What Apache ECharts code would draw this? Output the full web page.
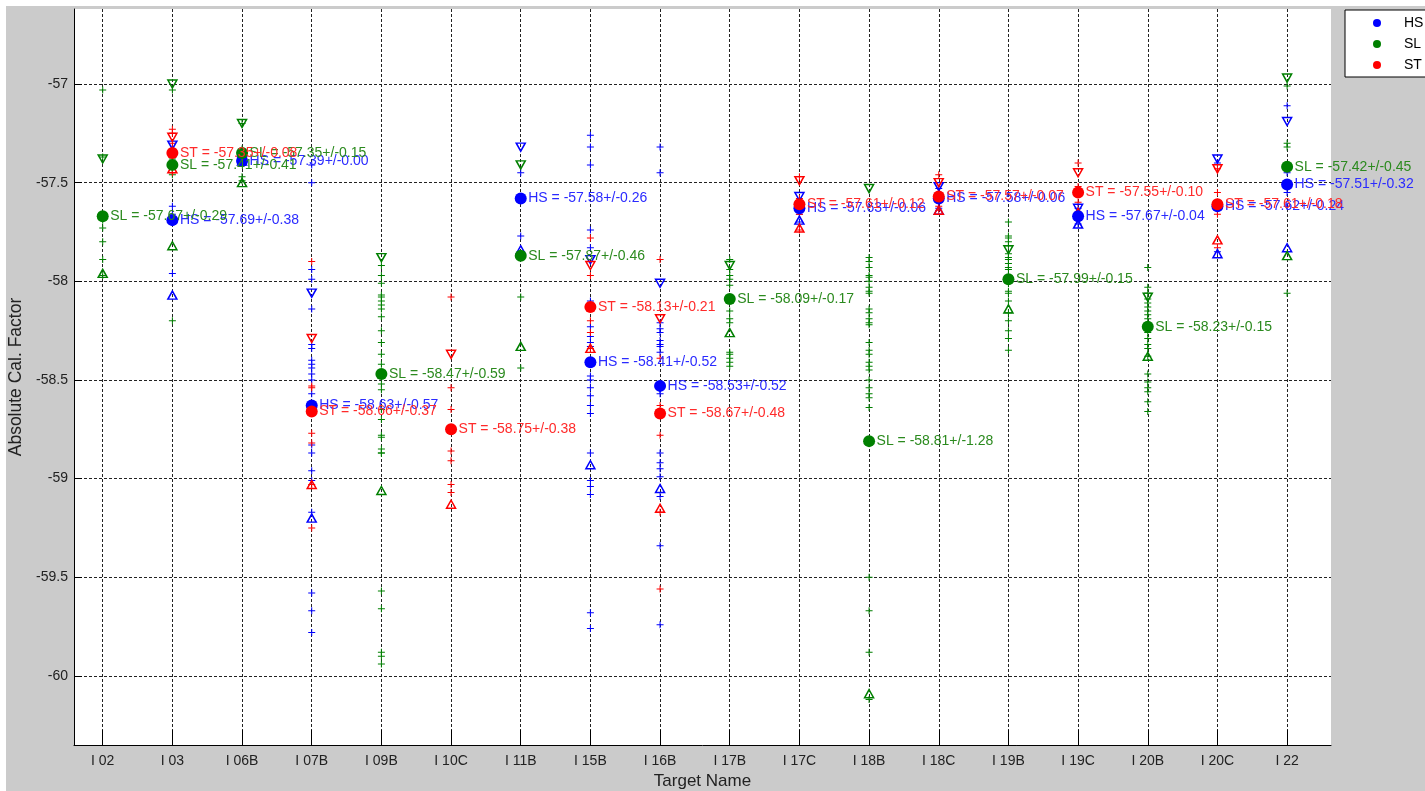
<!DOCTYPE html>
<html>
<head>
<meta charset="utf-8">
<title>Absolute Cal. Factor by Target</title>
<script src="https://cdn.jsdelivr.net/npm/echarts@6/dist/echarts.min.js"></script>
<style>
  html, body { margin: 0; padding: 0; background: #ffffff; }
  #chart { width: 1425px; height: 791px; }
</style>
</head>
<body>
<div id="chart"></div>
<script>
// Target names along the x axis
const categories = ['I 02', 'I 03', 'I 06B', 'I 07B', 'I 09B', 'I 10C', 'I 11B', 'I 15B', 'I 16B',
  'I 17B', 'I 17C', 'I 18B', 'I 18C', 'I 19B', 'I 19C', 'I 20B', 'I 20C', 'I 22'];

// Y-axis tick values
const yTicks = [-60, -59.5, -59, -58.5, -58, -57.5, -57];

// Per-target mean and standard deviation of each group (null = no data)
const hsMean = [null, -57.69, -57.39, -58.63, null, null, -57.58, -58.41, -58.53, null, -57.63, null, -57.58, null, -57.67, null, -57.62, -57.51];
const hsStd  = [null, 0.38, 0.00, 0.57, null, null, 0.26, 0.52, 0.52, null, 0.06, null, 0.06, null, 0.04, null, 0.24, 0.32];
const slMean = [-57.67, -57.41, -57.35, null, -58.47, null, -57.87, null, null, -58.09, null, -58.81, null, -57.99, null, -58.23, null, -57.42];
const slStd  = [0.29, 0.41, 0.15, null, 0.59, null, 0.46, null, null, 0.17, null, 1.28, null, 0.15, null, 0.15, null, 0.45];
const stMean = [null, -57.35, null, -58.66, null, -58.75, null, -58.13, -58.67, null, -57.61, null, -57.57, null, -57.55, null, -57.61, null];
const stStd  = [null, 0.08, null, 0.37, null, 0.38, null, 0.21, 0.48, null, 0.12, null, 0.07, null, 0.10, null, 0.18, null];

// Individual measurements per target
const hsSamples = [
  [],
  [-57.33, -57.62, -57.66, -57.70, -57.96],
  [-57.39],
  [-57.41, -57.50, -57.94, -57.99, -58.14, -58.32, -58.34, -58.40, -58.42, -58.44, -58.47, -58.50, -58.57, -58.83, -58.87, -58.96, -59.01, -59.17, -59.58, -59.67, -59.78],
  [],
  [],
  [-57.45, -57.58, -57.77],
  [-57.26, -57.32, -57.41, -57.74, -57.83, -58.10, -58.23, -58.28, -58.31, -58.33, -58.48, -58.50, -58.54, -58.58, -58.63, -58.67, -58.87, -59.01, -59.04, -59.08, -59.68, -59.76],
  [-57.32, -57.45, -58.21, -58.24, -58.26, -58.30, -58.32, -58.33, -58.36, -58.55, -58.57, -58.87, -58.92, -58.95, -58.99, -59.09, -59.34, -59.74],
  [],
  [-57.59, -57.62, -57.64, -57.66, -57.70],
  [],
  [-57.53, -57.57, -57.60, -57.63],
  [],
  [-57.63, -57.65, -57.67, -57.69, -57.71],
  [],
  [-57.40, -57.60, -57.64, -57.85],
  [-57.11, -57.45, -57.55, -57.62]
];
const slSamples = [
  [-57.03, -57.37, -57.69, -57.73, -57.80, -57.89, -57.97],
  [-57.03, -57.38, -57.40, -57.43, -57.46, -58.20],
  [-57.20, -57.33, -57.36, -57.47, -57.49],
  [],
  [-57.92, -57.97, -58.01, -58.07, -58.08, -58.10, -58.12, -58.14, -58.18, -58.25, -58.31, -58.37, -58.42, -58.52, -58.55, -58.65, -58.70, -58.78, -58.79, -58.85, -58.87, -58.87, -59.57, -59.66, -59.88, -59.90, -59.94],
  [],
  [-57.57, -57.87, -58.08, -58.44],
  [],
  [],
  [-57.89, -57.94, -57.97, -57.99, -58.02, -58.15, -58.19, -58.21, -58.36, -58.37, -58.39, -58.41, -58.43],
  [],
  [-57.88, -57.90, -57.93, -57.97, -57.98, -58.00, -58.03, -58.05, -58.06, -58.14, -58.16, -58.19, -58.21, -58.22, -58.31, -58.35, -58.37, -58.41, -58.43, -58.45, -58.50, -58.54, -58.57, -58.59, -58.64, -59.50, -59.67, -59.88, -60.12],
  [],
  [-57.70, -57.77, -57.78, -57.80, -57.82, -57.86, -57.88, -57.89, -57.91, -57.93, -57.94, -57.97, -58.01, -58.05, -58.06, -58.10, -58.16, -58.20, -58.25, -58.29, -58.35],
  [],
  [-57.93, -58.03, -58.06, -58.09, -58.11, -58.13, -58.15, -58.17, -58.19, -58.26, -58.29, -58.32, -58.34, -58.38, -58.47, -58.51, -58.54, -58.56, -58.61, -58.66],
  [],
  [-57.01, -57.30, -57.32, -57.42, -58.06]
];
const stSamples = [
  [],
  [-57.23, -57.25, -57.30, -57.36, -57.43, -57.45],
  [],
  [-57.90, -58.53, -58.54, -58.66, -58.77, -58.82, -59.03, -59.25],
  [],
  [-58.08, -58.54, -58.65, -58.86, -58.91, -59.03, -59.07],
  [],
  [-57.78, -57.97, -58.20, -58.26, -58.34],
  [-57.89, -58.39, -58.63, -58.78, -59.17, -59.56],
  [],
  [-57.47, -57.58, -57.62, -57.66, -57.74],
  [],
  [-57.46, -57.55, -57.58, -57.62, -57.64],
  [],
  [-57.40, -57.52, -57.56, -57.60, -57.65],
  [],
  [-57.43, -57.55, -57.60, -57.66, -57.83],
  []
];

const groups = [
  { name: 'HS', color: '#0000ff', text: '#2a2aff', mean: hsMean, std: hsStd, samples: hsSamples },
  { name: 'SL', color: '#008000', text: '#2b8a1e', mean: slMean, std: slStd, samples: slSamples },
  { name: 'ST', color: '#ff0000', text: '#ff2a2a', mean: stMean, std: stStd, samples: stSamples }
];

const FONT = 'Arial, "Liberation Sans", Helvetica, sans-serif';
const PLUS = 'path://M3,0h1v3h3v1h-3v3h-1v-3h-3v-1h3z';
const xPos = categories.map((c, i) => i + 1);

const series = [];
groups.forEach(g => {
  const pts = [];
  g.samples.forEach((arr, i) => arr.forEach(v => pts.push([i + 1, v])));
  const hi = [], lo = [], mid = [];
  g.mean.forEach((m, i) => {
    if (m === null) return;
    hi.push([i + 1, m + g.std[i]]);
    lo.push([i + 1, m - g.std[i]]);
    mid.push([i + 1, m, g.std[i]]);
  });
  // individual measurements
  series.push({
    name: g.name, type: 'scatter', data: pts, symbol: PLUS, symbolSize: 7,
    itemStyle: { color: g.color, opacity: 1 }, z: 2
  });
  // mean + std
  series.push({
    name: g.name, type: 'scatter', data: hi, symbol: 'triangle', symbolRotate: 180, symbolSize: [9, 8],
    itemStyle: { color: 'rgba(255,255,255,0)', borderColor: g.color, borderWidth: 1.5, opacity: 1 }, z: 3
  });
  // mean - std
  series.push({
    name: g.name, type: 'scatter', data: lo, symbol: 'triangle', symbolSize: [9, 8],
    itemStyle: { color: 'rgba(255,255,255,0)', borderColor: g.color, borderWidth: 1.5, opacity: 1 }, z: 3
  });
  // mean with its label
  series.push({
    name: g.name, type: 'scatter', data: mid, symbol: 'circle', symbolSize: 12,
    itemStyle: { color: g.color, opacity: 1 }, z: 4,
    label: {
      show: true, position: 'right', distance: 1.5,
      fontFamily: FONT, fontSize: 14, color: g.text,
      formatter: p => g.name + ' = ' + p.value[1].toFixed(2) + '+/-' + p.value[2].toFixed(2)
    }
  });
});

const chart = echarts.init(document.getElementById('chart'), null, { renderer: 'canvas' });
chart.setOption({
  animation: false,
  backgroundColor: '#ffffff',
  graphic: [{
    type: 'rect', z: -10, silent: true,
    shape: { x: 6, y: 6, width: 1425, height: 791 },
    style: { fill: '#cbcbcb' }
  }],
  grid: {
    left: 74, right: 94, top: 9, bottom: 46,
    outerBoundsMode: 'none', containLabel: false,
    show: true, backgroundColor: '#ffffff', borderWidth: 0
  },
  legend: {
    data: groups.map(g => ({ name: g.name, itemStyle: { color: g.color } })),
    orient: 'vertical', left: 1345, top: 10,
    icon: 'circle', itemWidth: 44, itemHeight: 8, itemGap: 7,
    padding: [6, 40, 5, 28],
    backgroundColor: '#ffffff', borderColor: '#000000', borderWidth: 1, borderRadius: 0,
    selectedMode: false,
    textStyle: { fontFamily: FONT, fontSize: 14, color: '#000', lineHeight: 14 }
  },
  xAxis: {
    type: 'value', min: 0.588, max: 18.63,
    name: 'Target Name', nameLocation: 'middle', nameGap: 27,
    nameTextStyle: { fontFamily: FONT, fontSize: 17, color: '#222' },
    axisLine: { show: true, onZero: false, lineStyle: { color: '#000', width: 1 } },
    axisTick: { show: true, inside: true, length: 15, customValues: xPos, lineStyle: { color: '#000', width: 1 } },
    axisLabel: {
      show: true, customValues: xPos, margin: 9,
      fontFamily: FONT, fontSize: 14, color: '#222',
      formatter: v => categories[Math.round(v) - 1] || ''
    },
    splitLine: { show: true, lineStyle: { color: '#222', width: 1, type: [3, 2] } }
  },
  yAxis: {
    type: 'value', min: -60.35, max: -56.62,
    name: 'Absolute Cal. Factor', nameLocation: 'middle', nameGap: 39,
    nameTextStyle: { fontFamily: FONT, fontSize: 17.5, color: '#222' },
    axisLine: { show: true, onZero: false, lineStyle: { color: '#000', width: 1 } },
    axisTick: { show: true, inside: true, length: 8, customValues: yTicks, lineStyle: { color: '#000', width: 1 } },
    axisLabel: {
      show: true, customValues: yTicks, margin: 6,
      fontFamily: FONT, fontSize: 14, color: '#222',
      formatter: v => String(v)
    },
    splitLine: { show: true, lineStyle: { color: '#222', width: 1, type: [3, 2] } }
  },
  series: series
});
</script>
</body>
</html>
